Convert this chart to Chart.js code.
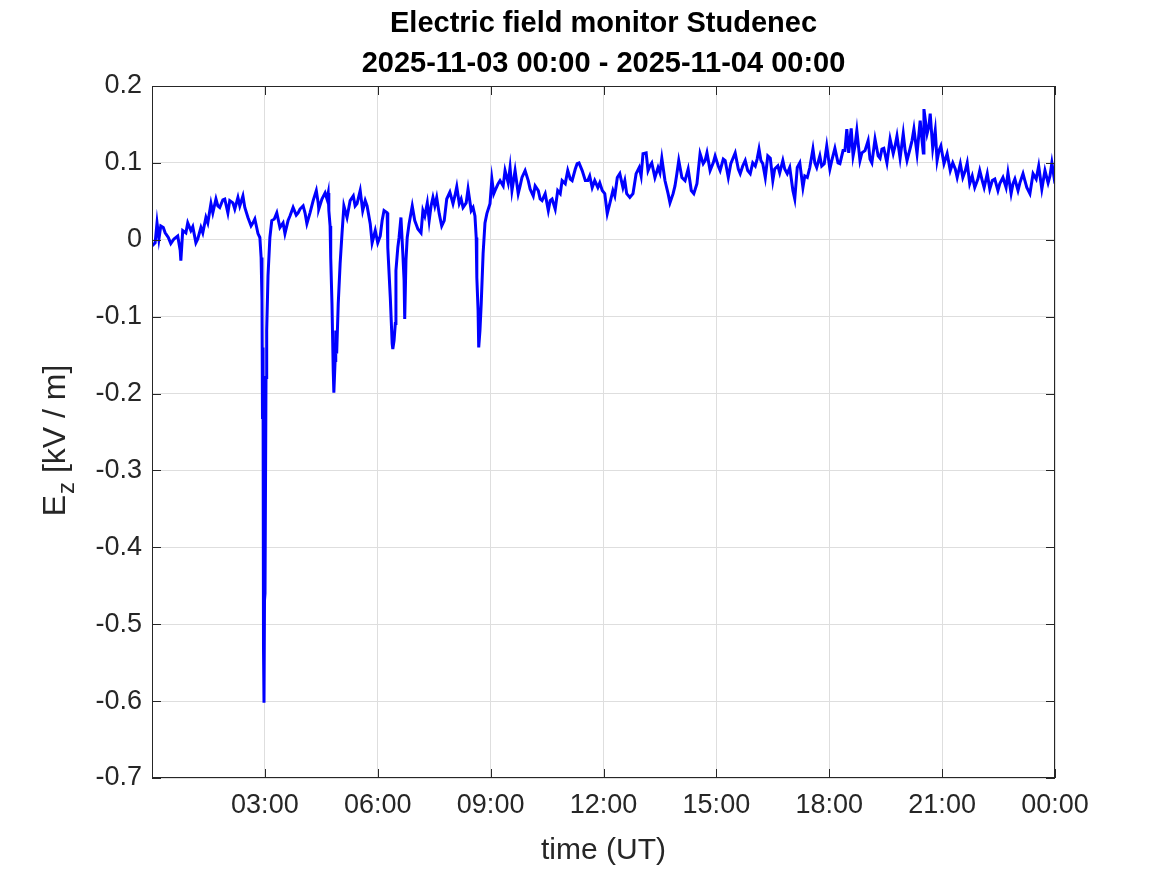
<!DOCTYPE html>
<html>
<head>
<meta charset="utf-8">
<title>Electric field monitor Studenec</title>
<script src="https://cdn.jsdelivr.net/npm/chart.js@4.4.0/dist/chart.umd.min.js"></script>
<style>
  html, body { margin: 0; padding: 0; background: #ffffff; }
  #wrap { width: 1167px; height: 875px; }
</style>
</head>
<body>
<div id="wrap"><canvas id="efm" width="1167" height="875"></canvas></div>
<script>
// time since 2025-11-03 00:00 UT, in minutes
const minutes = [
  0, 5, 8, 11, 14, 18, 21, 26, 30, 35,
  41, 45, 46, 49, 54, 57, 62, 65, 70, 73,
  78, 81, 86, 89, 94, 97, 102, 105, 108, 113,
  116, 121, 124, 129, 132, 137, 140, 145, 148, 153,
  158, 161, 164, 169, 172, 174, 175.4, 176.2, 177.0, 177.8,
  178.6, 179.4, 180.2, 181.8, 182.9, 185, 188, 191, 195, 199,
  204, 209, 212, 217, 220, 225, 230, 233, 236, 241,
  244, 247, 252, 257, 262, 265, 266, 271, 276, 279,
  281, 282, 284, 285, 287, 289, 290, 292, 293, 294.5,
  297, 300, 303, 306, 311, 316, 321, 324, 327, 332,
  336, 340, 343, 348, 351, 356, 360, 364, 367, 370,
  375, 376, 380, 383, 384, 386, 388, 389, 392, 394,
  397, 400, 402, 403, 405, 407, 410, 415, 419, 424,
  429, 432, 435, 439, 442, 445, 448, 451, 454, 458,
  462, 466, 470, 475, 480, 483, 486, 490, 493, 496,
  501, 504, 509, 512, 515, 517, 518, 520, 521, 523,
  525, 528, 531, 534, 539, 542, 545, 547, 552, 555,
  560, 563, 568, 571, 574, 579, 584, 587, 590, 595,
  600, 603, 608, 611, 616, 619, 622, 627, 632, 635,
  638, 643, 647, 651, 654, 659, 663, 667, 670, 675,
  678, 681, 686, 691, 695, 698, 702, 706, 711, 714,
  718, 722, 726, 730, 735, 738, 742, 746, 751, 754,
  757, 762, 767, 772, 777, 780, 783, 788, 791, 794,
  797, 802, 807, 810, 813, 818, 823, 826, 831, 834,
  837, 840, 845, 850, 855, 860, 864, 869, 874, 879,
  882, 885, 890, 895, 898, 903, 906, 911, 914, 919,
  923, 930, 935, 938, 942, 946, 950, 954, 958, 962,
  965, 968, 971, 974, 978, 982, 986, 990, 993, 998,
  1001, 1006, 1009, 1013, 1017, 1022, 1025, 1029, 1033, 1038,
  1041, 1045, 1049, 1054, 1057, 1060, 1065, 1068, 1072, 1076,
  1081, 1084, 1089, 1094, 1097, 1102, 1105, 1108, 1111, 1115,
  1118, 1121, 1124, 1129, 1132, 1137, 1142, 1145, 1148, 1153,
  1158, 1161, 1164, 1167, 1172, 1177, 1182, 1185, 1188, 1193,
  1198, 1201, 1204, 1209, 1212, 1215, 1220, 1225, 1228, 1230,
  1231, 1236, 1239, 1241, 1245, 1249, 1252, 1255, 1258, 1263,
  1268, 1273, 1277, 1281, 1284, 1289, 1293, 1297, 1300, 1304,
  1308, 1312, 1317, 1320, 1324, 1327, 1332, 1336, 1340, 1344,
  1349, 1352, 1357, 1362, 1365, 1370, 1373, 1376, 1381, 1384,
  1389, 1392, 1395, 1400, 1405, 1410, 1414, 1419, 1424, 1429,
  1432, 1435, 1440
];

// vertical field Ez in kV/m
const ez = [
  -0.008, -0.004, 0.022, 0.001, 0.018, 0.016, 0.009, 0.003, -0.005, 0.001,
  0.005, -0.014, -0.027, 0.012, 0.009, 0.022, 0.012, 0.017, -0.004, 0.001,
  0.016, 0.009, 0.029, 0.022, 0.047, 0.035, 0.053, 0.044, 0.042, 0.052,
  0.053, 0.035, 0.051, 0.048, 0.040, 0.055, 0.044, 0.057, 0.042, 0.029,
  0.018, 0.022, 0.027, 0.008, 0.003, -0.023, -0.079, -0.231, -0.140, -0.530,
  -0.602, -0.469, -0.460, -0.179, -0.118, -0.047, 0.003, 0.025, 0.027, 0.035,
  0.016, 0.022, 0.008, 0.025, 0.031, 0.042, 0.032, 0.035, 0.040, 0.044,
  0.035, 0.021, 0.035, 0.051, 0.064, 0.048, 0.040, 0.053, 0.061, 0.053,
  0.061, 0.038, 0.018, -0.023, -0.083, -0.170, -0.199, -0.157, -0.118, -0.148,
  -0.083, -0.031, 0.008, 0.044, 0.029, 0.051, 0.057, 0.044, 0.047, 0.064,
  0.038, 0.051, 0.044, 0.021, -0.004, 0.012, -0.004, 0.005, 0.025, 0.038,
  0.035, -0.010, -0.075, -0.135, -0.142, -0.131, -0.109, -0.040, -0.010, 0.003,
  0.029, -0.018, -0.053, -0.103, -0.027, 0.003, 0.021, 0.044, 0.025, 0.014,
  0.009, 0.038, 0.031, 0.048, 0.025, 0.044, 0.055, 0.044, 0.055, 0.034,
  0.018, 0.025, 0.053, 0.062, 0.047, 0.057, 0.069, 0.047, 0.053, 0.042,
  0.048, 0.066, 0.038, 0.042, 0.031, 0.003, -0.049, -0.092, -0.140, -0.118,
  -0.083, -0.018, 0.022, 0.034, 0.047, 0.079, 0.060, 0.064, 0.073, 0.077,
  0.070, 0.090, 0.074, 0.094, 0.064, 0.090, 0.060, 0.070, 0.081, 0.090,
  0.077, 0.066, 0.057, 0.070, 0.064, 0.053, 0.051, 0.060, 0.038, 0.051,
  0.053, 0.040, 0.064, 0.060, 0.077, 0.073, 0.090, 0.079, 0.077, 0.092,
  0.099, 0.100, 0.090, 0.077, 0.077, 0.083, 0.068, 0.077, 0.068, 0.074,
  0.064, 0.060, 0.034, 0.047, 0.064, 0.057, 0.081, 0.086, 0.068, 0.077,
  0.060, 0.055, 0.060, 0.086, 0.094, 0.083, 0.112, 0.113, 0.090, 0.096,
  0.100, 0.081, 0.094, 0.087, 0.106, 0.077, 0.060, 0.048, 0.060, 0.070,
  0.086, 0.103, 0.081, 0.077, 0.092, 0.064, 0.060, 0.073, 0.112, 0.099,
  0.103, 0.113, 0.090, 0.100, 0.109, 0.096, 0.090, 0.105, 0.103, 0.081,
  0.099, 0.113, 0.092, 0.086, 0.096, 0.103, 0.090, 0.086, 0.100, 0.096,
  0.105, 0.118, 0.103, 0.099, 0.081, 0.109, 0.106, 0.077, 0.092, 0.096,
  0.087, 0.103, 0.092, 0.086, 0.094, 0.064, 0.053, 0.094, 0.100, 0.068,
  0.083, 0.081, 0.094, 0.118, 0.100, 0.094, 0.109, 0.096, 0.099, 0.122,
  0.092, 0.103, 0.119, 0.100, 0.099, 0.116, 0.116, 0.144, 0.113, 0.145,
  0.109, 0.122, 0.142, 0.103, 0.113, 0.116, 0.129, 0.105, 0.100, 0.131,
  0.109, 0.106, 0.118, 0.119, 0.100, 0.131, 0.112, 0.122, 0.135, 0.106,
  0.138, 0.116, 0.103, 0.119, 0.129, 0.144, 0.112, 0.155, 0.129, 0.113,
  0.170, 0.138, 0.148, 0.164, 0.119, 0.142, 0.103, 0.116, 0.122, 0.099,
  0.112, 0.090, 0.100, 0.092, 0.081, 0.099, 0.081, 0.090, 0.100, 0.073,
  0.083, 0.068, 0.079, 0.090, 0.077, 0.068, 0.086, 0.066, 0.077, 0.079,
  0.064, 0.073, 0.081, 0.068, 0.087, 0.060, 0.073, 0.079, 0.064, 0.074,
  0.086, 0.077, 0.068, 0.060, 0.086, 0.079, 0.096, 0.066, 0.090, 0.074,
  0.083, 0.100, 0.073
];

const xTickLabels = ['', '03:00', '06:00', '09:00', '12:00', '15:00', '18:00', '21:00', '00:00'];
const yTickLabels = ['-0.7', '-0.6', '-0.5', '-0.4', '-0.3', '-0.2', '-0.1', '0', '0.1', '0.2'];
const titleLines = ['Electric field monitor Studenec', '2025-11-03 00:00 - 2025-11-04 00:00'];

const axisColor = '#262626';
const gridColor = '#dedede';
const fontFamily = '"Liberation Sans", Arial, Helvetica, sans-serif';

// matlab style box: frame on all four sides, ticks pointing inward
const boxPlugin = {
  id: 'box',
  afterDatasetsDraw(chart) {
    const { ctx, chartArea: a, scales: { x, y } } = chart;
    const len = 9;
    ctx.save();
    ctx.strokeStyle = axisColor;
    ctx.lineWidth = 1;
    ctx.beginPath();
    x.ticks.forEach(t => {
      const px = Math.round(x.getPixelForValue(t.value)) + 0.5;
      ctx.moveTo(px, a.bottom); ctx.lineTo(px, a.bottom - len);
      ctx.moveTo(px, a.top); ctx.lineTo(px, a.top + len);
    });
    y.ticks.forEach(t => {
      const py = Math.round(y.getPixelForValue(t.value)) + 0.5;
      ctx.moveTo(a.left, py); ctx.lineTo(a.left + len, py);
      ctx.moveTo(a.right, py); ctx.lineTo(a.right - len, py);
    });
    ctx.stroke();
    ctx.strokeRect(a.left + 0.5, a.top + 0.5, a.right - a.left - 1, a.bottom - a.top - 1);
    ctx.restore();
  }
};

// y axis title with subscript: E_z [kV / m]
const yTitlePlugin = {
  id: 'yTitle',
  afterDraw(chart) {
    const { ctx } = chart;
    const big = '32px ' + fontFamily;
    const small = '24px ' + fontFamily;
    ctx.save();
    ctx.fillStyle = axisColor;
    ctx.textBaseline = 'middle';
    ctx.textAlign = 'left';
    ctx.font = big;
    const wE = ctx.measureText('E').width;
    const wRest = ctx.measureText(' [kV / m]').width;
    ctx.font = small;
    const wZ = ctx.measureText('z').width;
    const total = wE + wZ + wRest;
    ctx.translate(56, 441);
    ctx.rotate(-Math.PI / 2);
    const x0 = -total / 2;
    ctx.font = big;
    ctx.fillText('E', x0, 0);
    ctx.font = small;
    ctx.fillText('z', x0 + wE + 1, 11);
    ctx.font = big;
    ctx.fillText(' [kV / m]', x0 + wE + wZ + 1, 0);
    ctx.restore();
  }
};

new Chart(document.getElementById('efm'), {
  type: 'line',
  data: {
    datasets: [{
      label: 'Ez',
      data: minutes.map((m, i) => ({ x: m, y: ez[i] })),
      borderColor: '#0000ff',
      borderWidth: 3,
      borderJoinStyle: 'miter',
      pointRadius: 0,
      fill: false,
      tension: 0
    }]
  },
  options: {
    responsive: false,
    animation: false,
    devicePixelRatio: 1,
    events: [],
    layout: { padding: { left: 0, right: 112, top: 0, bottom: 0 } },
    plugins: {
      legend: { display: false },
      tooltip: { enabled: false },
      title: {
        display: true,
        fullSize: false,
        text: titleLines,
        color: '#000000',
        font: { family: fontFamily, size: 29, weight: 'bold', lineHeight: 40 / 29 },
        padding: { top: 4, bottom: 2 }
      }
    },
    scales: {
      x: {
        type: 'linear',
        min: 0,
        max: 1440,
        border: { display: false },
        grid: { color: gridColor, drawTicks: false },
        ticks: {
          stepSize: 180,
          autoSkip: false,
          maxRotation: 0,
          padding: 11,
          color: axisColor,
          font: { family: fontFamily, size: 27 },
          callback: v => xTickLabels[Math.round(v / 180)]
        },
        title: {
          display: true,
          text: 'time (UT)',
          color: axisColor,
          font: { family: fontFamily, size: 30 },
          padding: { top: 0, bottom: 6 }
        },
        afterFit(scale) {
          scale.height = 97;
          scale.paddingLeft = 0;
          scale.paddingRight = 0;
        }
      },
      y: {
        min: -0.7,
        max: 0.2,
        border: { display: false },
        grid: { color: gridColor, drawTicks: false },
        ticks: {
          stepSize: 0.1,
          padding: 10,
          color: axisColor,
          font: { family: fontFamily, size: 27 },
          callback: v => yTickLabels[Math.round((v + 0.7) * 10)]
        },
        afterFit(scale) {
          scale.width = 152;
        }
      }
    }
  },
  plugins: [boxPlugin, yTitlePlugin]
});
</script>
</body>
</html>
